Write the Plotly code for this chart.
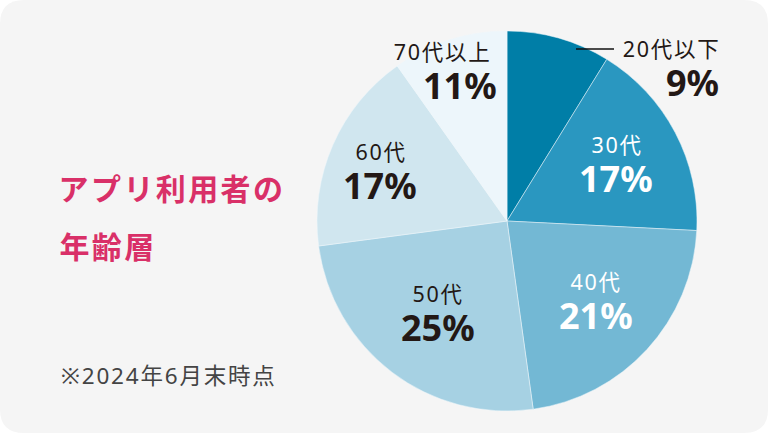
"""Pie chart of app users by age group."""

import plotly.graph_objects as go

WIDTH = 768
HEIGHT = 433
FONT = "Noto Sans, Noto Sans CJK JP"

age_groups = ["20代以下", "30代", "40代", "50代", "60代", "70代以上"]
# printed labels, and the slice sizes as actually drawn (they don't quite agree)
shares = [9, 17, 21, 25, 17, 11]
slice_sizes = [8.8, 17.0, 22.0, 25.1, 17.3, 9.8]
slice_colors = ["#007ea7", "#2a97c0", "#73b8d4", "#a6d1e3", "#d0e6ef", "#edf6fb"]
label_colors = ["#231815", "#ffffff", "#ffffff", "#231815", "#231815", "#231815"]
# label block centres in pixels: age x, age y, percent x, percent y
label_spots = [
    (671.5, 49, 692.5, 82),
    (616.5, 144, 616, 178),
    (596, 281, 596, 315),
    (438, 293, 438, 327),
    (380.5, 152, 380, 186),
    (442, 52, 460, 85),
]

# the plot sits flush in the window and the Japanese text is slightly tracked
PAGE_FIXES = """
document.body.style.margin = '0';
document.querySelectorAll('.annotation-text').forEach(function (t) {
  if (!t.textContent.endsWith('%')) { t.style.letterSpacing = '0.08em'; }
});
"""


def px_x(x: float) -> float:
    return x / WIDTH


def px_y(y: float) -> float:
    return 1 - y / HEIGHT


def add_text(fig, x, y, text, size, color, bold=False):
    """Place text centred on a pixel position."""
    fig.add_annotation(
        x=px_x(x),
        y=px_y(y),
        xref="paper",
        yref="paper",
        text=f"<b>{text}</b>" if bold else text,
        showarrow=False,
        xanchor="center",
        yanchor="middle",
        font=dict(family=FONT, size=size, color=color),
    )


fig = go.Figure(
    go.Pie(
        labels=age_groups,
        values=slice_sizes,
        sort=False,
        direction="clockwise",
        rotation=0,
        textinfo="none",
        marker=dict(colors=slice_colors, line=dict(color="#eef7fb", width=0.5)),
        domain=dict(x=[px_x(317), px_x(697)], y=[px_y(411), px_y(31)]),
        showlegend=False,
    )
)

for group, share, color, spot in zip(age_groups, shares, label_colors, label_spots):
    x_age, y_age, x_share, y_share = spot
    add_text(fig, x_age, y_age, group, 21.5, color)
    add_text(fig, x_share, y_share, f"{share}%", 36, color, bold=True)

add_text(fig, 172, 189, "アプリ利用者の", 30, "#d93068", bold=True)
add_text(fig, 108, 246, "年齢層", 30, "#d93068", bold=True)
add_text(fig, 168.5, 375, "※2024年6月末時点", 22.5, "#444444")

# rounded card behind everything
r = 24
card = (
    f"M {px_x(r)},{px_y(0)} L {px_x(WIDTH - r)},{px_y(0)} "
    f"Q {px_x(WIDTH)},{px_y(0)} {px_x(WIDTH)},{px_y(r)} "
    f"L {px_x(WIDTH)},{px_y(HEIGHT - r)} "
    f"Q {px_x(WIDTH)},{px_y(HEIGHT)} {px_x(WIDTH - r)},{px_y(HEIGHT)} "
    f"L {px_x(r)},{px_y(HEIGHT)} "
    f"Q {px_x(0)},{px_y(HEIGHT)} {px_x(0)},{px_y(HEIGHT - r)} "
    f"L {px_x(0)},{px_y(r)} "
    f"Q {px_x(0)},{px_y(0)} {px_x(r)},{px_y(0)} Z"
)
fig.add_shape(
    type="path",
    path=card,
    xref="paper",
    yref="paper",
    fillcolor="#f5f5f5",
    line_width=0,
    layer="below",
)
# leader line for the smallest slice
fig.add_shape(
    type="line",
    x0=px_x(576),
    x1=px_x(614),
    y0=px_y(49),
    y1=px_y(49),
    xref="paper",
    yref="paper",
    line=dict(color="#111111", width=1.5),
)

fig.update_layout(
    width=WIDTH,
    height=HEIGHT,
    margin=dict(l=0, r=0, t=0, b=0),
    paper_bgcolor="#ffffff",
    plot_bgcolor="#ffffff",
)

fig.write_html(
    "out.html",
    post_script=PAGE_FIXES,
    config={"displayModeBar": False},
)
